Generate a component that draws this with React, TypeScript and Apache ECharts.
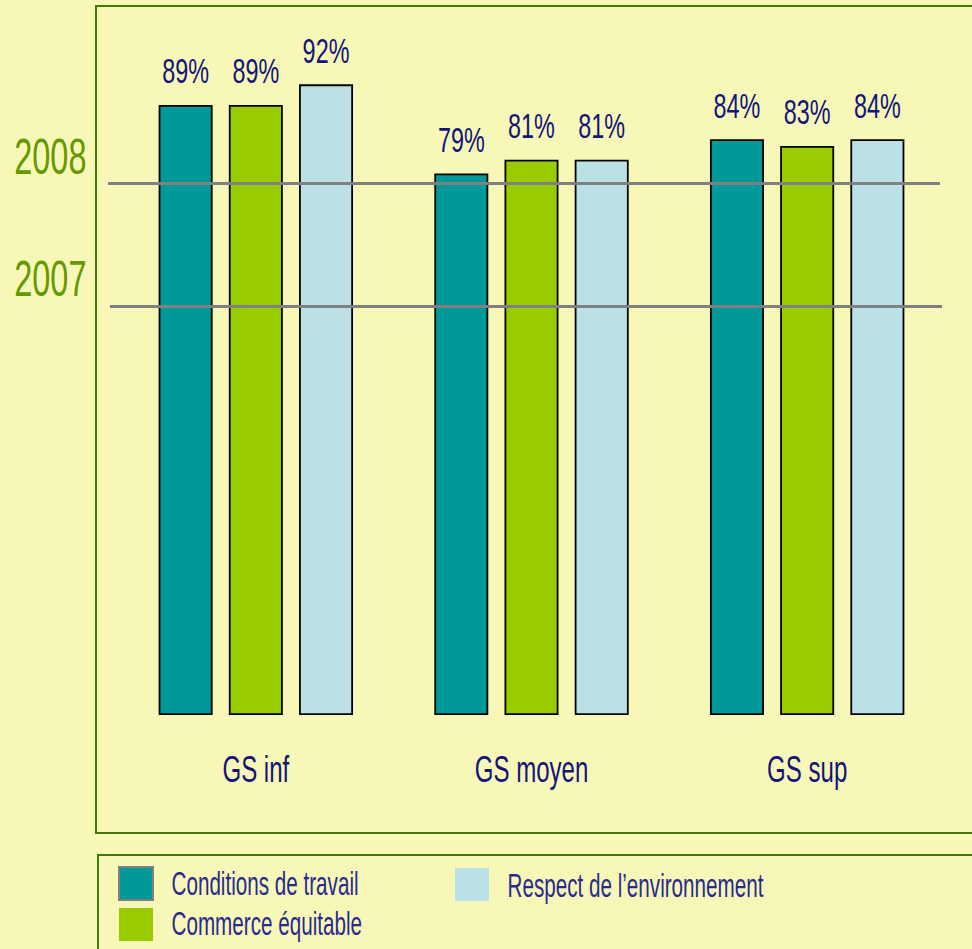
import React, { useEffect, useRef } from 'react';
import * as echarts from 'echarts';

const categories = ['GS inf', 'GS moyen', 'GS sup'];
const seriesNames = ['Conditions de travail', 'Commerce équitable', 'Respect de l’environnement'];
const conditionsValues = [89, 79, 84];
const commerceValues = [89, 81, 83];
const respectValues = [92, 81, 84];
const referenceYears = ['2008', '2007'];
const referenceValues = [77.6, 59.7];

const FONT = '"Liberation Sans", Arial, sans-serif';
const NAVY = '#14147a';
const LEGEND_TEXT = '#2a2a8e';
const COLORS = ['#009999', '#99cc00', '#bbe0e5'];
const SQUEEZE = 0.65;
const LEGEND_SQUEEZE = 0.626;
const BAR_WIDTH = 54;
const BAR_GAP = '30%';

export default function App() {
  const ref = useRef<HTMLDivElement>(null);
  useEffect(() => {
    const chart = echarts.init(ref.current!, null, { renderer: 'svg' });
    const values = [conditionsValues, commerceValues, respectValues];

    const barSeries = seriesNames.map((name, i) => ({
      name,
      type: 'bar',
      data: values[i],
      barWidth: BAR_WIDTH,
      barGap: BAR_GAP,
      itemStyle: { color: COLORS[i], borderColor: '#000000', borderWidth: 1.8 },
      ...(i === 0
        ? {
            markLine: {
              silent: true,
              symbol: ['none', 'none'],
              label: { show: false },
              lineStyle: { color: '#808080', width: 3, type: 'solid' },
              data: referenceValues.map((v, k) => [
                { x: 108 + k * 2, yAxis: v },
                { x: 940 + k * 2, yAxis: v },
              ]),
            },
          }
        : {}),
    }));

    // value labels: [categoryIndex, seriesIndex, value]
    const labelData: number[][] = [];
    values.forEach((arr, k) => arr.forEach((v, c) => labelData.push([c, k, v])));

    const valueLabelSeries = {
      type: 'custom',
      name: 'valueLabels',
      silent: true,
      z: 6,
      encode: { x: 0, y: 2 },
      data: labelData,
      renderItem: (params: any, api: any) => {
        const c = api.value(0);
        const k = api.value(1);
        const v = api.value(2);
        const layout = api.barLayout({ barWidth: BAR_WIDTH, barGap: BAR_GAP, count: seriesNames.length });
        const pt = api.coord([c, v]);
        const off = layout && layout[k] ? layout[k].offsetCenter : (k - 1) * 70;
        return {
          type: 'text',
          x: pt[0] + off,
          y: pt[1] - 34,
          scaleX: SQUEEZE,
          style: {
            text: v + '%',
            fill: NAVY,
            fontFamily: FONT,
            fontSize: 36,
            lineHeight: 36,
            align: 'center',
            verticalAlign: 'middle',
          },
        };
      },
    };

    const categoryLabelSeries = {
      type: 'custom',
      name: 'categoryLabels',
      silent: true,
      z: 6,
      encode: { x: 0, y: 1 },
      data: categories.map((_, i) => [i, 0]),
      renderItem: (params: any, api: any) => {
        const c = api.value(0);
        const pt = api.coord([c, 0]);
        return {
          type: 'text',
          x: pt[0],
          y: pt[1] + 55,
          scaleX: SQUEEZE,
          style: {
            text: categories[c],
            fill: NAVY,
            fontFamily: FONT,
            fontSize: 37,
            lineHeight: 37,
            align: 'center',
            verticalAlign: 'middle',
          },
        };
      },
    };

    const legendCommon = {
      orient: 'vertical',
      padding: 0,
      itemWidth: 34,
      itemHeight: 33,
      icon: 'rect',
      itemStyle: { borderWidth: 0 },
      selectedMode: false,
      formatter: () => '',
    };

    const legendLabel = (id: string, text: string, x: number, y: number) => ({
      type: 'text',
      id,
      x,
      y,
      scaleX: LEGEND_SQUEEZE,
      silent: true,
      style: {
        text,
        fill: LEGEND_TEXT,
        fontFamily: FONT,
        fontSize: 33,
        lineHeight: 33,
        align: 'left',
        verticalAlign: 'middle',
      },
    });

    const option: any = {
      animation: false,
      backgroundColor: '#f7f8b8',
      grid: { left: 118, right: 27, top: 29.5, bottom: 234 },
      xAxis: {
        type: 'category',
        data: categories,
        axisLine: { show: false },
        axisTick: { show: false },
        axisLabel: { show: false },
      },
      yAxis: {
        type: 'value',
        min: 0,
        max: 100,
        show: false,
        splitLine: { show: false },
      },
      legend: [
        {
          ...legendCommon,
          data: [
            { name: seriesNames[0], itemStyle: { borderColor: '#808080', borderWidth: 2 } },
            { name: seriesNames[1] },
          ],
          left: 118,
          top: 866,
          itemGap: 7,
        },
        {
          ...legendCommon,
          data: [{ name: seriesNames[2] }],
          left: 455,
          top: 868,
        },
      ],
      graphic: [
        {
          type: 'rect',
          id: 'plotBox',
          z: -1,
          shape: { x: 96, y: 6, width: 920, height: 827 },
          style: { fill: 'none', stroke: '#437a06', lineWidth: 2 },
          silent: true,
        },
        {
          type: 'rect',
          id: 'legendBox',
          z: -1,
          shape: { x: 98, y: 855, width: 920, height: 200 },
          style: { fill: 'none', stroke: '#437a06', lineWidth: 2 },
          silent: true,
        },
        legendLabel('lg0', seriesNames[0], 171.5, 884),
        legendLabel('lg1', seriesNames[1], 171.5, 924),
        legendLabel('lg2', seriesNames[2], 507.5, 885.5),
      ],
      series: [...barSeries, valueLabelSeries, categoryLabelSeries],
    };
    chart.setOption(option);

    const yearTexts = referenceValues.map((v, i) => {
      const y = chart.convertToPixel({ yAxisIndex: 0 }, v) as number;
      return {
        type: 'text',
        id: 'year' + i,
        x: 86.5,
        y: y - 26.5,
        scaleX: SQUEEZE,
        silent: true,
        style: {
          text: referenceYears[i],
          fill: '#669900',
          fontFamily: FONT,
          fontSize: 50,
          lineHeight: 50,
          align: 'right',
          verticalAlign: 'middle',
        },
      };
    });
    chart.setOption({ graphic: yearTexts });

    return () => chart.dispose();
  }, []);
  return (
    <div
      ref={ref}
      style={{ position: 'absolute', left: 0, top: 0, width: 972, height: 949 }}
    />
  );
}
